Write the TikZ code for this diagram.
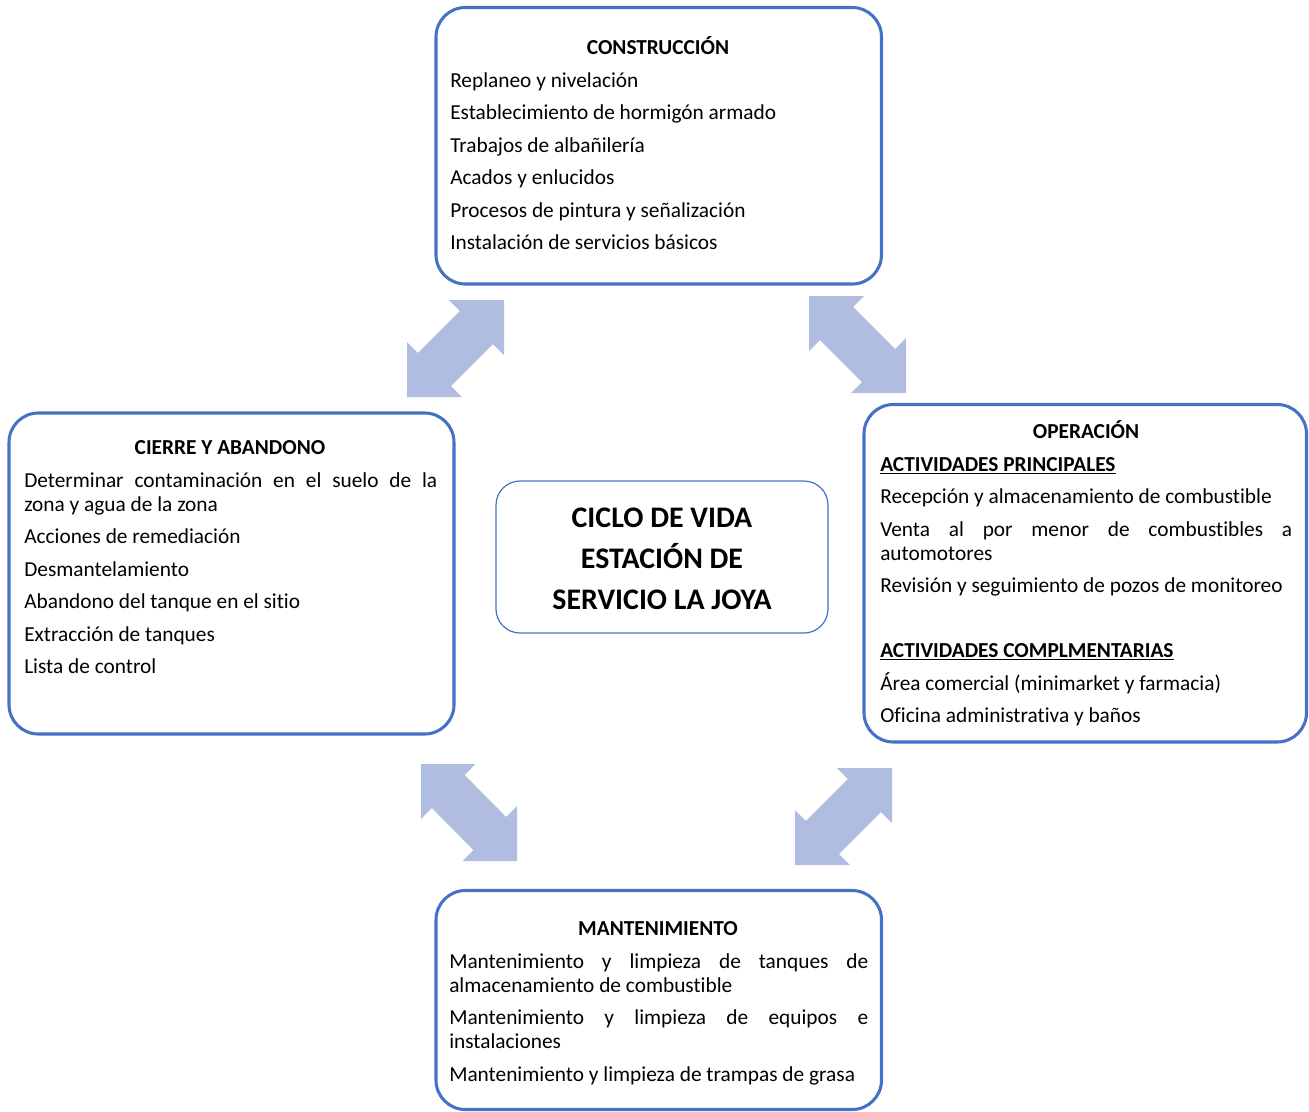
\documentclass[tikz,border=0pt]{standalone}
\usepackage{fontspec}
\setmainfont{Carlito}[Ligatures={NoCommon}]
\usetikzlibrary{fit}
\definecolor{boxblue}{HTML}{4472C4}
\definecolor{arrowblue}{HTML}{B0BDE0}
\newcommand\jl[1]{\makebox[\linewidth][s]{#1}}
\newcommand\pgap{\\[6.4pt]}
\tikzset{
  phase/.style={draw=boxblue, line width=2.3pt, rounded corners=22pt, inner sep=0pt},
  core/.style={draw=boxblue, line width=0.9pt, rounded corners=18pt, inner sep=0pt},
  ttl/.style={anchor=base, inner sep=0pt, font=\bfseries\fontsize{16pt}{18pt}\selectfont},
  body/.style={anchor=base west, inner sep=0pt, font=\fontsize{16pt}{18pt}\selectfont},
  dblarrow/.pic={\fill[arrowblue] (1,1) -- (0.433,1) -- (0.546,0.887) -- (0.113,0.454) -- (0,0.567) -- (0,0) -- (0.567,0) -- (0.454,0.113) -- (0.887,0.546) -- (1,0.433) -- cycle;}
}
\begin{document}
\begin{tikzpicture}[x=0.75pt,y=-0.75pt]
\useasboundingbox (0,0) rectangle (1309,1111);

% boxes
\node[phase, fit={(436,7.5) (881.5,284)}] (cons) {};
\node[phase, fit={(9,413) (454,734)}] (cier) {};
\node[phase, fit={(864,404.5) (1306.5,742)}] (oper) {};
\node[phase, fit={(436,890.5) (881.5,1109.5)}] (mant) {};
\node[core, fit={(496,481) (828,633)}] (core) {};

% double arrows
\pic[shift={(407,397)}, xscale=97, yscale=-97] (a1) {dblarrow};
\pic[shift={(906,393)}, xscale=-97, yscale=-97] (a2) {dblarrow};
\pic[shift={(517,861)}, xscale=-96, yscale=-97] (a3) {dblarrow};
\pic[shift={(795,865)}, xscale=97, yscale=-97] (a4) {dblarrow};

% construccion
\node[ttl] (consT) at (658,54) {CONSTRUCCIÓN};
\node[body] (consB) at (450,87) {\parbox[t]{380pt}{%
Replaneo y nivelación\pgap
Establecimiento de hormigón armado\pgap
Trabajos de albañilería\pgap
Acados y enlucidos\pgap
Procesos de pintura y señalización\pgap
Instalación de servicios básicos}};

% cierre
\node[ttl] (cierT) at (230,454) {CIERRE Y ABANDONO};
\node[body] (cierB) at (24,487) {\parbox[t]{309.75pt}{%
\jl{Determinar contaminación en el suelo de la}\\
zona y agua de la zona\pgap
Acciones de remediación\pgap
Desmantelamiento\pgap
Abandono del tanque en el sitio\pgap
Extracción de tanques\pgap
Lista de control}};

% operacion
\node[ttl] (operT) at (1086,438) {OPERACIÓN};
\node[body] (operB) at (880,471) {\parbox[t]{309pt}{%
\textbf{\underline{ACTIVIDADES PRINCIPALES}}\pgap
Recepción y almacenamiento de combustible\pgap
\jl{Venta al por menor de combustibles a}\\
automotores\pgap
Revisión y seguimiento de pozos de monitoreo\\[30.75pt]
\textbf{\underline{ACTIVIDADES COMPLMENTARIAS}}\pgap
Área comercial (minimarket y farmacia)\pgap
Oficina administrativa y baños}};

% mantenimiento
\node[ttl] (mantT) at (658,935) {MANTENIMIENTO};
\node[body] (mantB) at (449,968) {\parbox[t]{314.25pt}{%
\jl{Mantenimiento y limpieza de tanques de}\\
almacenamiento de combustible\pgap
\jl{Mantenimiento y limpieza de equipos e}\\
instalaciones\pgap
Mantenimiento y limpieza de trampas de grasa}};

% center
\node[anchor=base, inner sep=0pt, font=\bfseries\fontsize{22.4pt}{30.75pt}\selectfont] (coreT) at (662,527)
  {\parbox[t]{240pt}{\centering CICLO DE VIDA\\ESTACIÓN DE\\SERVICIO LA JOYA}};
\end{tikzpicture}
\end{document}
